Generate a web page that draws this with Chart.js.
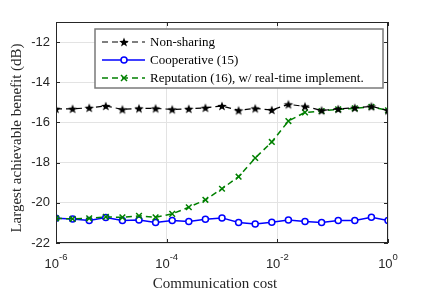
<!DOCTYPE html>
<html>
<head>
<meta charset="utf-8">
<script src="https://cdn.jsdelivr.net/npm/chart.js@4/dist/chart.umd.min.js"></script>
<style>
  html, body { margin: 0; padding: 0; background: #fff; }
  #wrap { width: 429px; height: 297px; }
</style>
</head>
<body>
<div id="wrap"><canvas id="benefitChart" width="429" height="297"></canvas></div>
<script>
// exponents of communication cost: 10^(-6), 10^(-5.7), ... 10^0
const costExp = [-6, -5.7, -5.4, -5.1, -4.8, -4.5, -4.2, -3.9, -3.6, -3.3, -3, -2.7, -2.4, -2.1, -1.8, -1.5, -1.2, -0.9, -0.6, -0.3, 0];
const nonSharing = [-15.32, -15.32, -15.27, -15.18, -15.35, -15.3, -15.3, -15.35, -15.32, -15.27, -15.18, -15.4, -15.3, -15.38, -15.1, -15.2, -15.4, -15.33, -15.27, -15.2, -15.4];
const cooperative = [-20.77, -20.8, -20.88, -20.73, -20.88, -20.85, -20.98, -20.88, -20.93, -20.82, -20.75, -20.98, -21.05, -20.97, -20.85, -20.93, -20.98, -20.88, -20.88, -20.72, -20.88];
const reputation = [-20.77, -20.8, -20.77, -20.7, -20.72, -20.65, -20.72, -20.55, -20.22, -19.85, -19.3, -18.7, -17.77, -16.97, -15.93, -15.5, -15.43, -15.35, -15.3, -15.22, -15.4];
const seriesNames = ['Non-sharing', 'Cooperative (15)', 'Reputation (16), w/ real-time implement.'];
const xTickExp = [-6, -4, -2, 0];
const yTicks = [-22, -20, -18, -16, -14, -12];
const xTitle = 'Communication cost';
const yTitle = 'Largest achievable benefit (dB)';

const axisColor = '#262626';
const gridColor = '#e3e3e3';
const serif = '"Liberation Serif", "Times New Roman", serif';
const sans = '"Liberation Sans", Arial, sans-serif';

function pts(vals) {
  return vals.map((v, i) => ({ x: Math.pow(10, costExp[i]), y: v }));
}

// filled 5-point star marker
function makeStar(r, color) {
  const c = document.createElement('canvas');
  const s = Math.ceil(r * 2 + 2);
  c.width = s; c.height = s;
  const g = c.getContext('2d');
  g.fillStyle = color;
  g.beginPath();
  for (let i = 0; i < 10; i++) {
    const rad = i % 2 === 0 ? r : r * 0.42;
    const a = -Math.PI / 2 + i * Math.PI / 5;
    const px = s / 2 + rad * Math.cos(a), py = s / 2 + 0.5 + rad * Math.sin(a);
    if (i === 0) g.moveTo(px, py); else g.lineTo(px, py);
  }
  g.closePath();
  g.fill();
  return c;
}
const starImg = makeStar(5, '#000');

// MATLAB-ish box, inward ticks, x labels with superscripts, titles, legend
const decorPlugin = {
  id: 'decor',
  afterDraw(chart) {
    const ctx = chart.ctx;
    const a = chart.chartArea;
    const xs = chart.scales.x, ys = chart.scales.y;
    ctx.save();
    ctx.strokeStyle = axisColor;
    ctx.lineWidth = 1;
    ctx.strokeRect(a.left + 0.5, a.top + 0.5, a.right - a.left - 1, a.bottom - a.top - 1);
    ctx.beginPath();
    xTickExp.forEach(e => {
      const px = Math.round(xs.getPixelForValue(Math.pow(10, e))) + 0.5;
      ctx.moveTo(px, a.bottom); ctx.lineTo(px, a.bottom - 4);
      ctx.moveTo(px, a.top); ctx.lineTo(px, a.top + 4);
    });
    yTicks.forEach(v => {
      const py = Math.round(ys.getPixelForValue(v)) + 0.5;
      ctx.moveTo(a.left, py); ctx.lineTo(a.left + 4, py);
      ctx.moveTo(a.right, py); ctx.lineTo(a.right - 4, py);
    });
    ctx.stroke();

    // x tick labels 10^n
    ctx.fillStyle = axisColor;
    ctx.textBaseline = 'alphabetic';
    ctx.textAlign = 'left';
    xTickExp.forEach(e => {
      const px = xs.getPixelForValue(Math.pow(10, e));
      const base = '10', sup = e === 0 ? '0' : '-' + Math.abs(e);
      ctx.font = '13px ' + sans;
      const wb = ctx.measureText(base).width;
      ctx.font = '9.5px ' + sans;
      const ws = ctx.measureText(sup).width;
      const x0 = px - (wb + ws) / 2;
      ctx.font = '13px ' + sans;
      ctx.fillText(base, x0, 268);
      ctx.font = '9.5px ' + sans;
      ctx.fillText(sup, x0 + wb, 260);
    });

    // axis titles
    ctx.font = '15px ' + serif;
    ctx.textAlign = 'center';
    ctx.textBaseline = 'middle';
    ctx.fillText(xTitle, 215, 284);
    ctx.save();
    ctx.translate(17, 138);
    ctx.rotate(-Math.PI / 2);
    ctx.fillText(yTitle, 0, 0);
    ctx.restore();

    // legend
    const lx = 95, ly = 29, lw = 288, lh = 59;
    ctx.fillStyle = '#fff';
    ctx.fillRect(lx, ly, lw, lh);
    ctx.strokeStyle = '#7a7a7a';
    ctx.lineWidth = 1.5;
    ctx.strokeRect(lx, ly, lw, lh);
    ctx.font = '13px ' + serif;
    ctx.textAlign = 'left';
    ctx.textBaseline = 'middle';
    const rows = [42, 60, 78];
    chart.data.datasets.forEach((ds, i) => {
      const y = rows[i];
      ctx.save();
      ctx.strokeStyle = ds.borderColor;
      ctx.lineWidth = ds.borderWidth;
      ctx.setLineDash(ds.borderDash || []);
      ctx.beginPath();
      ctx.moveTo(102, y); ctx.lineTo(145, y);
      ctx.stroke();
      ctx.setLineDash([]);
      const mx = 124;
      if (i === 0) {
        ctx.drawImage(starImg, mx - starImg.width / 2, y - starImg.height / 2);
      } else if (i === 1) {
        ctx.fillStyle = '#fff';
        ctx.beginPath(); ctx.arc(mx, y, 3, 0, Math.PI * 2); ctx.fill(); ctx.stroke();
      } else {
        ctx.beginPath();
        ctx.moveTo(mx - 3, y - 3); ctx.lineTo(mx + 3, y + 3);
        ctx.moveTo(mx + 3, y - 3); ctx.lineTo(mx - 3, y + 3);
        ctx.stroke();
      }
      ctx.restore();
      ctx.fillStyle = '#000';
      ctx.fillText(seriesNames[i], 150, y + 1);
    });
    ctx.restore();
  }
};

const ctxBenefit = document.getElementById('benefitChart').getContext('2d');
const benefitChart = new Chart(ctxBenefit, {
  type: 'line',
  data: {
    datasets: [{
      label: seriesNames[0],
      data: pts(nonSharing),
      borderColor: '#000',
      borderWidth: 1.2,
      borderDash: [6, 4],
      pointStyle: starImg,
      order: 0
    }, {
      label: seriesNames[1],
      data: pts(cooperative),
      borderColor: '#0000ff',
      borderWidth: 1.5,
      pointStyle: 'circle',
      pointRadius: 3,
      pointBorderWidth: 1.5,
      pointBackgroundColor: '#fff',
      order: 2
    }, {
      label: seriesNames[2],
      data: pts(reputation),
      borderColor: '#008000',
      borderWidth: 1.5,
      borderDash: [6, 4],
      pointStyle: 'crossRot',
      pointRadius: 4,
      pointBorderWidth: 1.5,
      order: 1
    }]
  },
  options: {
    responsive: false,
    animation: false,
    events: [],
    layout: { padding: { top: 22, right: 41, left: 0, bottom: 0 } },
    elements: { line: { tension: 0, fill: false } },
    plugins: {
      legend: { display: false },
      tooltip: { enabled: false }
    },
    scales: {
      x: {
        type: 'logarithmic',
        min: 1e-6,
        max: 1,
        afterBuildTicks: axis => { axis.ticks = xTickExp.map(e => ({ value: Math.pow(10, e) })); },
        afterFit: axis => { axis.height = 54; },
        grid: { color: gridColor, drawTicks: false },
        border: { display: false },
        ticks: { display: false }
      },
      y: {
        min: -22,
        max: -11,
        afterBuildTicks: axis => { axis.ticks = yTicks.map(v => ({ value: v })); },
        afterFit: axis => { axis.width = 56; },
        grid: { color: gridColor, drawTicks: false },
        border: { display: false },
        ticks: {
          color: axisColor,
          padding: 6,
          font: { family: sans, size: 13 }
        }
      }
    }
  },
  plugins: [decorPlugin]
});
</script>
</body>
</html>
